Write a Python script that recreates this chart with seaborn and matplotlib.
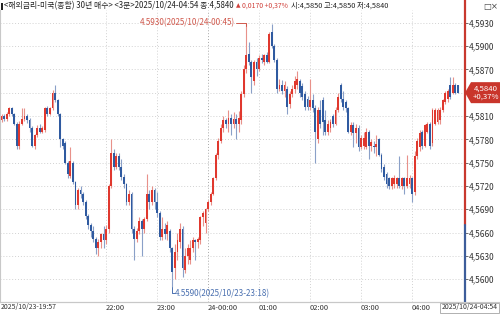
import numpy as np
import pandas as pd
import matplotlib
matplotlib.use("Agg")
import matplotlib.pyplot as plt
import matplotlib.transforms as mtransforms
from matplotlib.patches import Polygon, Rectangle
from matplotlib.lines import Line2D
import seaborn as sns

# ---------------- data (price x 10000) ----------------
start_time = "2025-10-23 19:57"
opens = [45805, 45810, 45806, 45812, 45820, 45812, 45800, 45772, 45800, 45806,
         45810, 45805, 45795, 45772, 45785, 45795, 45790, 45792, 45820, 45813,
         45820, 45840, 45830, 45812, 45780, 45775, 45750, 45733, 45750, 45725,
         45695, 45715, 45710, 45700, 45682, 45670, 45662, 45652, 45640, 45648,
         45658, 45650, 45665, 45720, 45762, 45745, 45758, 45745, 45732, 45722,
         45700, 45710, 45665, 45652, 45662, 45675, 45665, 45678, 45710, 45700,
         45715, 45700, 45685, 45655, 45665, 45658, 45662, 45640, 45615, 45635,
         45648, 45665, 45612, 45630, 45625, 45640, 45650, 45648, 45650, 45680,
         45672, 45690, 45700, 45710, 45730, 45760, 45778, 45795, 45805, 45800,
         45808, 45800, 45806, 45800, 45805, 45838, 45870, 45890, 45880, 45855,
         45880, 45870, 45885, 45880, 45888, 45880, 45918, 45900, 45882, 45845,
         45850, 45842, 45845, 45825, 45838, 45845, 45850, 45855, 45848, 45838,
         45832, 45822, 45830, 45820, 45780, 45818, 45830, 45805, 45790, 45795,
         45810, 45800, 45818, 45850, 45832, 45828, 45820, 45790, 45798, 45788,
         45795, 45770, 45772, 45770, 45790, 45772, 45772, 45770, 45780, 45760,
         45745, 45735, 45730, 45720, 45722, 45722, 45730, 45720, 45730, 45720,
         45722, 45730, 45712, 45758, 45770, 45790, 45772, 45790, 45800, 45775,
         45800, 45802, 45805, 45818, 45828, 45832, 45850, 45840, 45850, 45850]
highs = [45812, 45812, 45815, 45822, 45821, 45814, 45802, 45803, 45820, 45820,
         45812, 45808, 45797, 45787, 45798, 45800, 45797, 45822, 45823, 45822,
         45843, 45850, 45832, 45814, 45782, 45778, 45752, 45770, 45752, 45727,
         45718, 45720, 45712, 45702, 45684, 45672, 45668, 45655, 45652, 45660,
         45668, 45670, 45722, 45780, 45768, 45762, 45762, 45755, 45735, 45724,
         45715, 45712, 45668, 45666, 45680, 45678, 45680, 45735, 45715, 45720,
         45718, 45712, 45688, 45680, 45672, 45675, 45665, 45642, 45645, 45660,
         45672, 45668, 45640, 45645, 45650, 45655, 45652, 45655, 45682, 45688,
         45692, 45702, 45712, 45732, 45762, 45782, 45800, 45810, 45808, 45818,
         45812, 45815, 45812, 45816, 45842, 45875, 45930, 45905, 45882, 45882,
         45884, 45888, 45890, 45890, 45892, 45918, 45928, 45902, 45884, 45858,
         45856, 45855, 45848, 45842, 45850, 45862, 45868, 45858, 45852, 45842,
         45836, 45858, 45838, 45824, 45822, 45830, 45834, 45818, 45805, 45806,
         45812, 45822, 45840, 45852, 45842, 45830, 45822, 45802, 45802, 45800,
         45798, 45785, 45790, 45795, 45792, 45780, 45778, 45786, 45782, 45762,
         45748, 45738, 45732, 45732, 45734, 45732, 45758, 45732, 45732, 45760,
         45734, 45732, 45765, 45782, 45792, 45792, 45800, 45802, 45802, 45820,
         45820, 45820, 45822, 45832, 45842, 45845, 45860, 45860, 45852, 45850]
lows = [45802, 45803, 45804, 45810, 45810, 45798, 45768, 45768, 45798, 45803,
        45801, 45790, 45770, 45768, 45783, 45788, 45788, 45790, 45810, 45811,
        45818, 45828, 45810, 45770, 45768, 45748, 45730, 45730, 45722, 45690,
        45690, 45705, 45695, 45678, 45665, 45655, 45648, 45632, 45630, 45640,
        45640, 45645, 45660, 45718, 45740, 45742, 45740, 45728, 45718, 45695,
        45695, 45660, 45625, 45648, 45658, 45630, 45660, 45675, 45690, 45695,
        45690, 45680, 45650, 45650, 45652, 45650, 45635, 45590, 45600, 45625,
        45640, 45603, 45608, 45620, 45620, 45635, 45625, 45640, 45645, 45668,
        45660, 45688, 45695, 45708, 45728, 45755, 45775, 45790, 45795, 45790,
        45785, 45795, 45780, 45790, 45800, 45835, 45865, 45875, 45840, 45850,
        45862, 45868, 45878, 45875, 45878, 45878, 45898, 45880, 45840, 45842,
        45838, 45835, 45812, 45820, 45835, 45840, 45845, 45835, 45830, 45818,
        45818, 45818, 45815, 45750, 45775, 45795, 45785, 45785, 45786, 45790,
        45796, 45798, 45815, 45828, 45818, 45815, 45788, 45785, 45770, 45775,
        45765, 45768, 45768, 45768, 45755, 45765, 45762, 45758, 45758, 45738,
        45728, 45718, 45716, 45716, 45718, 45718, 45718, 45716, 45710, 45718,
        45718, 45700, 45708, 45755, 45765, 45768, 45770, 45788, 45768, 45772,
        45798, 45800, 45800, 45815, 45825, 45828, 45832, 45838, 45838, 45840]
closes = [45810, 45806, 45812, 45820, 45812, 45800, 45772, 45800, 45806, 45810,
          45805, 45795, 45772, 45785, 45795, 45790, 45795, 45820, 45813, 45820,
          45840, 45830, 45812, 45780, 45772, 45750, 45735, 45752, 45725, 45695,
          45715, 45710, 45700, 45682, 45670, 45662, 45652, 45640, 45648, 45658,
          45650, 45665, 45720, 45762, 45745, 45758, 45745, 45732, 45722, 45700,
          45710, 45665, 45652, 45662, 45675, 45665, 45678, 45710, 45700, 45715,
          45700, 45685, 45655, 45665, 45658, 45670, 45640, 45610, 45635, 45650,
          45665, 45615, 45630, 45640, 45640, 45650, 45648, 45652, 45680, 45685,
          45690, 45700, 45710, 45730, 45760, 45778, 45795, 45805, 45800, 45808,
          45800, 45806, 45800, 45808, 45838, 45870, 45888, 45880, 45860, 45880,
          45870, 45885, 45882, 45888, 45880, 45915, 45900, 45882, 45845, 45850,
          45842, 45850, 45822, 45838, 45845, 45855, 45858, 45840, 45835, 45822,
          45822, 45830, 45820, 45790, 45818, 45800, 45802, 45790, 45800, 45802,
          45800, 45818, 45835, 45832, 45822, 45820, 45790, 45798, 45788, 45795,
          45770, 45782, 45782, 45790, 45772, 45776, 45770, 45774, 45760, 45742,
          45732, 45722, 45720, 45730, 45730, 45730, 45720, 45730, 45720, 45730,
          45730, 45710, 45758, 45778, 45788, 45772, 45798, 45800, 45772, 45818,
          45818, 45818, 45818, 45830, 45840, 45842, 45835, 45850, 45840, 45840]

prev_close = 4.5670
y_ticks = [4.5600, 4.5630, 4.5660, 4.5690, 4.5720, 4.5750, 4.5780,
           4.5810, 4.5840, 4.5870, 4.5900, 4.5930]
header_main = "<해외금리-미국(종합) 30년 매수> <3분>2025/10/24-04:54 종:4,5840"
header_arrow = "▲"
header_change = "0,0170 +0,37%"
header_ohl = "시:4,5850 고:4,5850 저:4,5840"
first_label = "2025/10/23-19:57"
last_label = "2025/10/24-04:54"
high_note = "4.5930(2025/10/24-00:45)"
low_note = "4.5590(2025/10/23-23:18)"
price_box = "4,5840\n+0,37%"

# ---------------- frame ----------------
n = len(closes)
times = pd.date_range(start_time, periods=n, freq="3min")
df = pd.DataFrame({
    "time": times,
    "idx": np.arange(n),
    "open": np.array(opens) / 1e4,
    "high": np.array(highs) / 1e4,
    "low": np.array(lows) / 1e4,
    "close": np.array(closes) / 1e4,
})

RED = "#e0382e"
BLUE = "#2f5aa0"
RED_W = "#e8918a"
BLUE_W = "#8aa0c8"
AX_RED = "#c8382e"
AX_BLUE = "#3d5d9a"
GRID = "#d2d2d2"
TXT = "#333333"

sns.set_theme(style="white")
plt.rcParams["font.family"] = ["Liberation Sans Narrow", "Noto Sans CJK KR", "DejaVu Sans"]

W, H = 500, 314
fig = plt.figure(figsize=(5.0, 3.14), dpi=100)
fig.patch.set_facecolor("white")
renderer = fig.canvas.get_renderer()


def fx(x):
    return x / W


def fy(y):
    return 1 - y / H


def fit_text(x0, x1, y, s, color, size=6.0, ha="left", **kw):
    xpos = x0 if ha == "left" else x1
    t = fig.text(fx(xpos), fy(y), s, ha=ha, va="center", fontsize=size, color=color, **kw)
    w = t.get_window_extent(renderer=renderer).width
    if w > (x1 - x0):
        t.set_fontsize(size * (x1 - x0) / w)
    return t


ax_left, ax_right, ax_top, ax_bot = 0, 465, 10, 302
ax = fig.add_axes([fx(ax_left), fy(ax_bot), (ax_right - ax_left) / W, (ax_bot - ax_top) / H])
ax.set_facecolor("white")

ylo, yhi = 4.55708, 4.59463
ax.set_ylim(ylo, yhi)
ax.set_xlim(-0.59, 181.76)

# grid lines
for t in y_ticks:
    ax.axhline(t, color=GRID, lw=0.7, ls=(0, (1, 2)), zorder=0)
hour_idx = [i for i, t in enumerate(times) if t.minute == 0 and i >= 25]
hour_lab = ["24-00:00" if times[i].hour == 0 else times[i].strftime("%H:%M") for i in hour_idx]
for i, lab in zip(hour_idx, hour_lab):
    c = "#a8a8a8" if lab.startswith("24") else GRID
    ax.axvline(i, color=c, lw=0.7, ls=(0, (1, 2)), zorder=0)

# candles
is_up = df["close"] >= df["open"]
body_col = np.where(is_up, RED, BLUE)
wick_col = np.where(is_up, RED_W, BLUE_W)
ax.vlines(df["idx"], df["low"], df["high"], colors=wick_col, lw=0.8, zorder=2)
body_bottom = np.minimum(df["open"], df["close"])
body_h = np.maximum((df["close"] - df["open"]).abs(), 0.00008)
ax.bar(df["idx"], body_h, bottom=body_bottom, width=0.72, color=body_col, linewidth=0, zorder=3)

# axes styling
for s in ["top", "right"]:
    ax.spines[s].set_visible(False)
ax.spines["left"].set_color("#c8c8c8")
ax.spines["left"].set_linewidth(0.8)
ax.spines["bottom"].set_color("#c8c8c8")
ax.spines["bottom"].set_linewidth(0.8)
ax.set_xticks([])
ax.yaxis.tick_right()
ax.set_yticks(y_ticks)
last_v = df["close"].iloc[-1]
ax.set_yticklabels(["" if abs(t - last_v) < 0.0008 else f"{t:.4f}".replace(".", ",")
                    for t in y_ticks])
ax.tick_params(axis="y", right=True, length=2, width=0.6, pad=1, labelsize=6,
               colors="#555555", labelcolor=TXT)

# right axis line (red above previous close, blue below)
bt = mtransforms.blended_transform_factory(ax.transAxes, ax.transData)
ax.plot([1, 1], [prev_close, 4.5962], color=AX_RED, lw=1.6, transform=bt, clip_on=False, zorder=5)
ax.plot([1, 1], [ylo, prev_close], color=AX_BLUE, lw=1.6, transform=bt, clip_on=False, zorder=5)

# high / low annotations
i_hi = int(df["high"].idxmax())
i_lo = int(df["low"].idxmin())
hi_v = df["high"].max()
lo_v = df["low"].min()
ax.plot([i_hi - 4.2, i_hi, i_hi], [hi_v, hi_v, hi_v - 0.0004], color="#d0584c", lw=0.7, zorder=4)
ax.text(i_hi - 4.4, hi_v, high_note, ha="right", va="center", fontsize=5.8, color="#d0584c", zorder=6)
lo_y2 = lo_v - 0.0008
ax.plot([i_lo, i_lo, i_lo + 0.9], [lo_v, lo_y2, lo_y2], color="#4a70b0", lw=0.7, zorder=4, clip_on=False)
ax.text(i_lo + 1.0, lo_y2, low_note, ha="left", va="center", fontsize=5.8, color="#4a70b0", zorder=6)

# bottom time labels
bx = mtransforms.blended_transform_factory(ax.transData, fig.transFigure)
fit_text(1, 57, 307.5, first_label, TXT, size=6)
for i, lab in zip(hour_idx, hour_lab):
    ax.text(i - 0.3, fy(307.5), lab, transform=bx, ha="left", va="center", fontsize=5.4,
            color=TXT, clip_on=False)
fig.add_artist(Line2D([0, 1], [fy(302), fy(302)], color="#c8c8c8", lw=0.8))
fig.add_artist(Rectangle((fx(440), fy(313)), fx(499) - fx(440), fy(303) - fy(313),
                         fill=False, edgecolor="#b0b0b0", lw=0.7))
fit_text(442, 498, 307.5, last_label, TXT, size=6, ha="right")

# current price box
_, py = ax.transData.transform((0, last_v))
pyf = fig.transFigure.inverted().transform((0, py))[1]
hb = 10.5 / H
poly = Polygon([(fx(465), pyf), (fx(471), pyf + hb), (fx(500), pyf + hb),
                (fx(500), pyf - hb), (fx(471), pyf - hb)], closed=True,
               facecolor="#c9352b", edgecolor="none", transform=fig.transFigure)
fig.add_artist(poly)
fig.text(fx(486), pyf, price_box, ha="center", va="center", fontsize=5.6, color="white",
         linespacing=1.0)

# header
fig.add_artist(Rectangle((fx(1), fy(10)), 2 / W, 7 / H, facecolor="#222222", edgecolor="none"))
fit_text(4, 233, 6, header_main, "#222222")
fig.text(fx(236), fy(6), header_arrow, ha="left", va="center", fontsize=4.2, color="#d0403a",
         family=["DejaVu Sans"])
fit_text(242, 288, 6, header_change, "#d0403a")
fit_text(291, 388, 6, header_ohl, "#222222")
fig.text(fx(498), fy(6), "□×", ha="right", va="center", fontsize=6, color="#444444",
         family=["DejaVu Sans"])

fig.savefig("out.png", dpi=100, facecolor="white")
